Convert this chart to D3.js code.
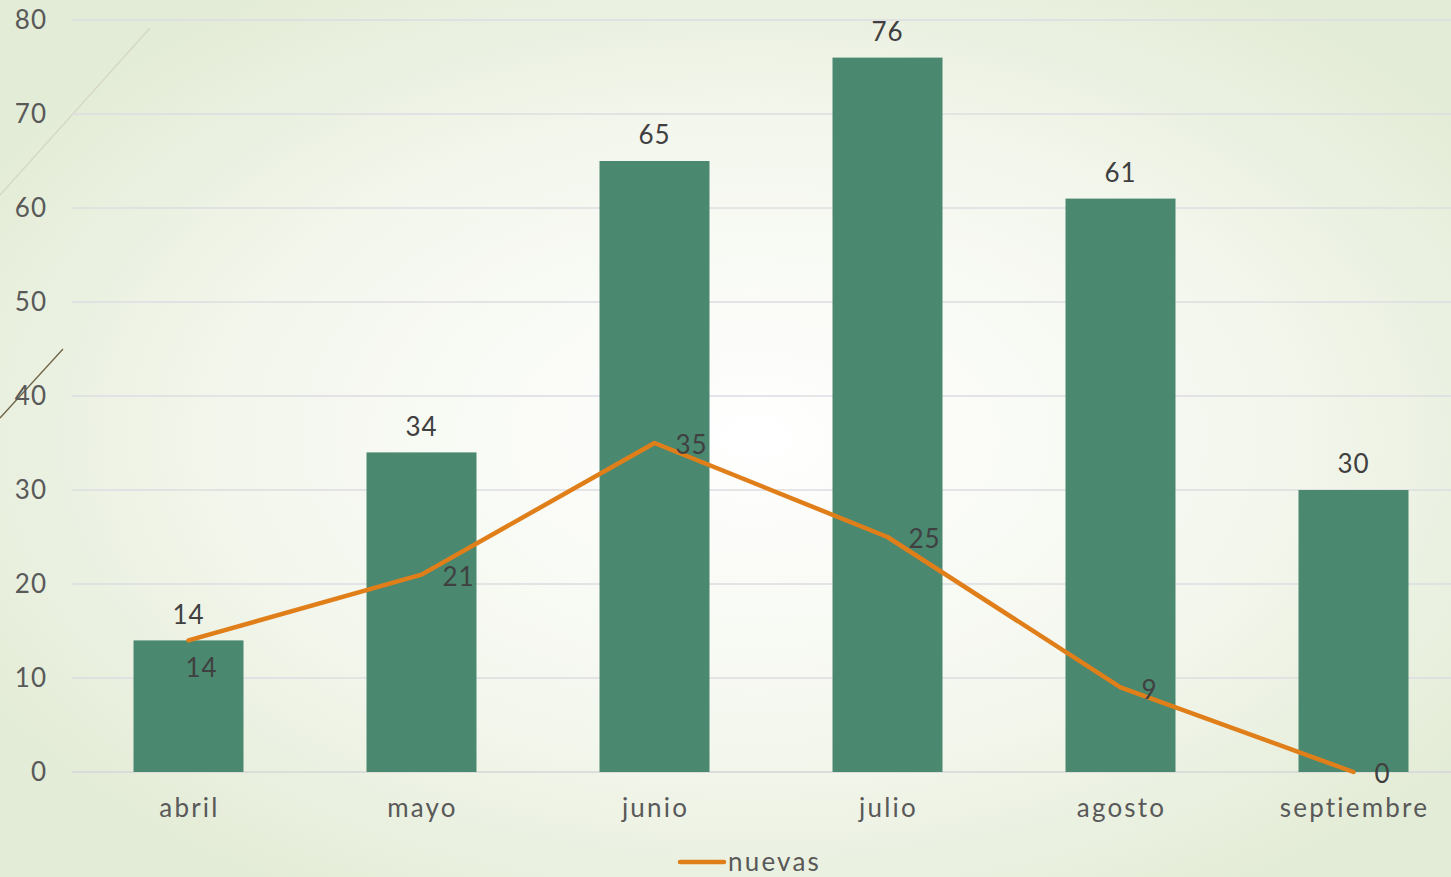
<!DOCTYPE html>
<html>
<head>
<meta charset="utf-8">
<script src="https://cdn.jsdelivr.net/npm/d3@7"></script>
<style>
  html, body { margin: 0; padding: 0; overflow: hidden; }
  text { font-family: 'Lato', 'Open Sans', sans-serif; fill: #595959; letter-spacing: 1px; }
  text.word { letter-spacing: 2.2px; }
</style>
</head>
<body>
<script>
const months = ['abril', 'mayo', 'junio', 'julio', 'agosto', 'septiembre'];
const barValues = [14, 34, 65, 76, 61, 30];
const nuevas = [14, 21, 35, 25, 9, 0];
const yTicks = [0, 10, 20, 30, 40, 50, 60, 70, 80];
const legendLabel = 'nuevas';

const size = { width: 1451, height: 877 };
const plot = { left: 72, right: 1470, top: 20, bottom: 772 };

const svg = d3.select('body').append('svg')
  .attr('width', size.width)
  .attr('height', size.height);

// background
const grad = svg.append('defs').append('radialGradient')
  .attr('id', 'bg')
  .attr('cx', '52%').attr('cy', '50%').attr('r', '62%');
grad.append('stop').attr('offset', '0%').attr('stop-color', '#ffffff');
grad.append('stop').attr('offset', '55%').attr('stop-color', '#f4f7ee');
grad.append('stop').attr('offset', '100%').attr('stop-color', '#e3ecd6');
svg.append('rect').attr('width', size.width).attr('height', size.height).attr('fill', 'url(#bg)');

// decorative strokes
svg.append('line').attr('x1', 0).attr('y1', 195).attr('x2', 150).attr('y2', 28)
  .attr('stroke', '#d6d8c6').attr('stroke-width', 1.5);
svg.append('line').attr('x1', 0).attr('y1', 418).attr('x2', 63).attr('y2', 349)
  .attr('stroke', '#6e6246').attr('stroke-width', 1.3);

const x = d3.scaleBand()
  .domain(months)
  .range([plot.left, plot.right])
  .paddingInner(0.528)
  .paddingOuter(0.264);

const y = d3.scaleLinear().domain([0, 80]).range([plot.bottom, plot.top]);

// gridlines
svg.append('g')
  .selectAll('line')
  .data(yTicks)
  .join('line')
  .attr('x1', plot.left)
  .attr('x2', size.width)
  .attr('y1', d => y(d))
  .attr('y2', d => y(d))
  .attr('stroke', d => (d === 0 ? '#d6d6d6' : '#dcdde2'))
  .attr('stroke-width', 1.3);

// y tick labels
svg.append('g')
  .selectAll('text')
  .data(yTicks)
  .join('text')
  .attr('x', 47)
  .attr('y', d => y(d))
  .attr('dy', '0.35em')
  .attr('text-anchor', 'end')
  .attr('font-size', 26)
  .text(d => d);

// bars
svg.append('g')
  .selectAll('rect')
  .data(barValues)
  .join('rect')
  .attr('x', (d, i) => x(months[i]))
  .attr('y', d => y(d))
  .attr('width', x.bandwidth())
  .attr('height', d => y(0) - y(d))
  .attr('fill', '#4a8870');

// bar labels
svg.append('g')
  .selectAll('text')
  .data(barValues)
  .join('text')
  .attr('x', (d, i) => x(months[i]) + x.bandwidth() / 2)
  .attr('y', d => y(d) - 26)
  .attr('dy', '0.35em')
  .attr('text-anchor', 'middle')
  .attr('font-size', 26)
  .style('fill', '#404040')
  .text(d => d);

// x labels
svg.append('g')
  .selectAll('text')
  .data(months)
  .join('text')
  .attr('class', 'word')
  .attr('x', d => x(d) + x.bandwidth() / 2 + 1)
  .attr('y', 808)
  .attr('dy', '0.35em')
  .attr('text-anchor', 'middle')
  .attr('font-size', 26)
  .text(d => d);

// line
const cx = i => x(months[i]) + x.bandwidth() / 2;
const line = d3.line()
  .x((d, i) => cx(i))
  .y(d => y(d));

svg.append('path')
  .datum(nuevas)
  .attr('d', line)
  .attr('fill', 'none')
  .attr('stroke', '#e07f1a')
  .attr('stroke-width', 4.5)
  .attr('stroke-linecap', 'round')
  .attr('stroke-linejoin', 'round');

// line labels (first one sits below the point, others to the right)
svg.append('g')
  .selectAll('text')
  .data(nuevas)
  .join('text')
  .attr('x', (d, i) => (i === 0 ? cx(i) - 3 : cx(i) + 21))
  .attr('y', (d, i) => (i === 0 ? y(d) + 27 : y(d) + 2))
  .attr('dy', '0.35em')
  .attr('text-anchor', 'start')
  .attr('font-size', 26)
  .style('fill', '#404040')
  .text(d => d);

// legend
const legend = svg.append('g').attr('transform', 'translate(680, 862)');
legend.append('line')
  .attr('x1', 0).attr('x2', 44)
  .attr('stroke', '#e07f1a')
  .attr('stroke-width', 4.5)
  .attr('stroke-linecap', 'round');
legend.append('text')
  .attr('class', 'word')
  .attr('x', 48)
  .attr('dy', '0.35em')
  .attr('font-size', 26)
  .text(legendLabel);
</script>
</body>
</html>
